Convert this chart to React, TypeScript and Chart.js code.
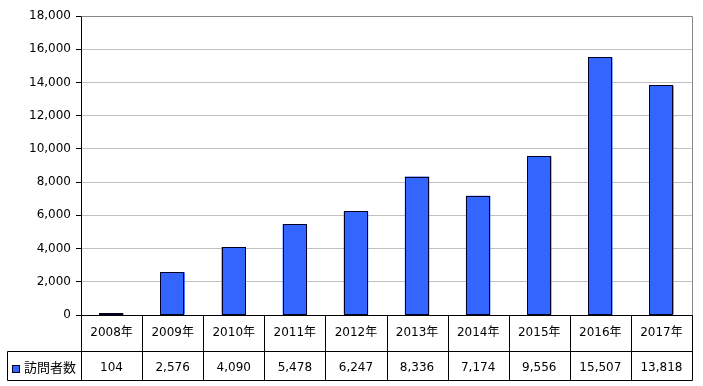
import React, { useEffect, useRef } from "react";
import { Chart, registerables } from "chart.js";

Chart.register(...registerables);

const categories = ["2008年", "2009年", "2010年", "2011年", "2012年", "2013年", "2014年", "2015年", "2016年", "2017年"];
const visitors = [104, 2576, 4090, 5478, 6247, 8336, 7174, 9556, 15507, 13818];
const seriesLabel = "訪問者数";
const yTicks = { min: 0, max: 18000, step: 2000 };

const FONT = "'DejaVu Sans', 'Noto Sans CJK JP', sans-serif";
const BAR_COLOR = "#3366FF";
const BAR_BORDER = "#000022";
const fmt = (v: number) => v.toLocaleString("en-US");

// crisp outline of each bar element produced by Chart.js
const crispBars = {
  id: "crispBars",
  afterDatasetsDraw(chart: any) {
    const { ctx } = chart;
    const meta = chart.getDatasetMeta(0);
    ctx.save();
    meta.data.forEach((el: any) => {
      const w = Math.round(el.width);
      const l = Math.round(el.x - el.width / 2);
      const t = Math.round(el.y);
      const b = Math.round(el.base);
      ctx.fillStyle = BAR_COLOR;
      ctx.fillRect(l, t, w, b - t);
      ctx.strokeStyle = BAR_BORDER;
      ctx.lineWidth = 1;
      ctx.strokeRect(l + 0.5, t + 0.5, w - 1, Math.max(b - t - 1, 0));
    });
    ctx.restore();
  },
};

const tablePlugin = {
  id: "dataTable",
  afterDraw(chart: any) {
    const { ctx, chartArea } = chart;
    const x = chart.scales.x;
    const n = categories.length;
    const cw = (chartArea.right - chartArea.left) / n;
    const top = chartArea.bottom;
    const row1 = top + 36;
    const row2 = row1 + 29;
    const legendLeft = 7;
    const p = (v: number) => Math.round(v) + 0.5;

    ctx.save();
    ctx.strokeStyle = "#888888";
    ctx.lineWidth = 1;
    ctx.beginPath();
    ctx.moveTo(p(chartArea.left), p(chartArea.top));
    ctx.lineTo(p(chartArea.right), p(chartArea.top));
    ctx.lineTo(p(chartArea.right), p(chartArea.bottom));
    ctx.stroke();

    ctx.strokeStyle = "#000000";
    ctx.beginPath();
    ctx.moveTo(p(chartArea.left), p(top));
    ctx.lineTo(p(chartArea.right), p(top));
    ctx.moveTo(p(legendLeft), p(row1));
    ctx.lineTo(p(chartArea.right), p(row1));
    ctx.moveTo(p(legendLeft), p(row2));
    ctx.lineTo(p(chartArea.right), p(row2));
    ctx.moveTo(p(legendLeft), p(row1));
    ctx.lineTo(p(legendLeft), p(row2));
    for (let i = 0; i <= n; i++) {
      const cx = i < n ? x.getPixelForValue(i) - cw / 2 : x.getPixelForValue(n - 1) + cw / 2;
      ctx.moveTo(p(cx), p(top));
      ctx.lineTo(p(cx), p(row2));
    }
    ctx.stroke();

    ctx.fillStyle = "#000000";
    ctx.font = `12px ${FONT}`;
    ctx.textAlign = "center";
    ctx.textBaseline = "middle";
    for (let i = 0; i < n; i++) {
      const cx = x.getPixelForValue(i);
      ctx.fillText(categories[i], cx, top + 18);
      ctx.fillText(fmt(visitors[i]), cx, row1 + 17);
    }
    ctx.fillStyle = BAR_COLOR;
    ctx.fillRect(12, row1 + 14, 8, 8);
    ctx.strokeStyle = BAR_BORDER;
    ctx.strokeRect(12.5, row1 + 14.5, 7, 7);
    ctx.fillStyle = "#000000";
    ctx.textAlign = "left";
    ctx.font = `13px ${FONT}`;
    ctx.fillText(seriesLabel, 24, row1 + 18);
    ctx.restore();
  },
};

export default function App() {
  const ref = useRef<HTMLCanvasElement | null>(null);
  useEffect(() => {
    document.body.style.margin = "0";
    if (!ref.current) return;
    const chart = new Chart(ref.current, {
      type: "bar",
      data: {
        labels: categories,
        datasets: [
          {
            label: seriesLabel,
            data: visitors,
            backgroundColor: BAR_COLOR,
            borderWidth: 0,
            categoryPercentage: 1,
            barPercentage: 0.4,
          },
        ],
      },
      options: {
        animation: false,
        responsive: false,
        maintainAspectRatio: false,
        layout: { padding: { left: 0, right: 11, top: 16, bottom: 71 } },
        plugins: { legend: { display: false }, tooltip: { enabled: false } },
        scales: {
          x: { display: false },
          y: {
            min: yTicks.min,
            max: yTicks.max,
            ticks: {
              stepSize: yTicks.step,
              padding: 5,
              color: "#000000",
              font: { family: FONT, size: 12 },
              callback: (v: any) => fmt(Number(v)),
            },
            grid: { color: "#c0c0c0", tickColor: "#000000", tickLength: 5 },
            border: { display: true, color: "#000000", width: 1 },
            afterFit: (scale: any) => {
              scale.width = 81;
            },
          },
        },
      },
      plugins: [crispBars, tablePlugin],
    });
    return () => chart.destroy();
  }, []);
  return <canvas ref={ref} width={703} height={386} style={{ display: "block" }} />;
}
